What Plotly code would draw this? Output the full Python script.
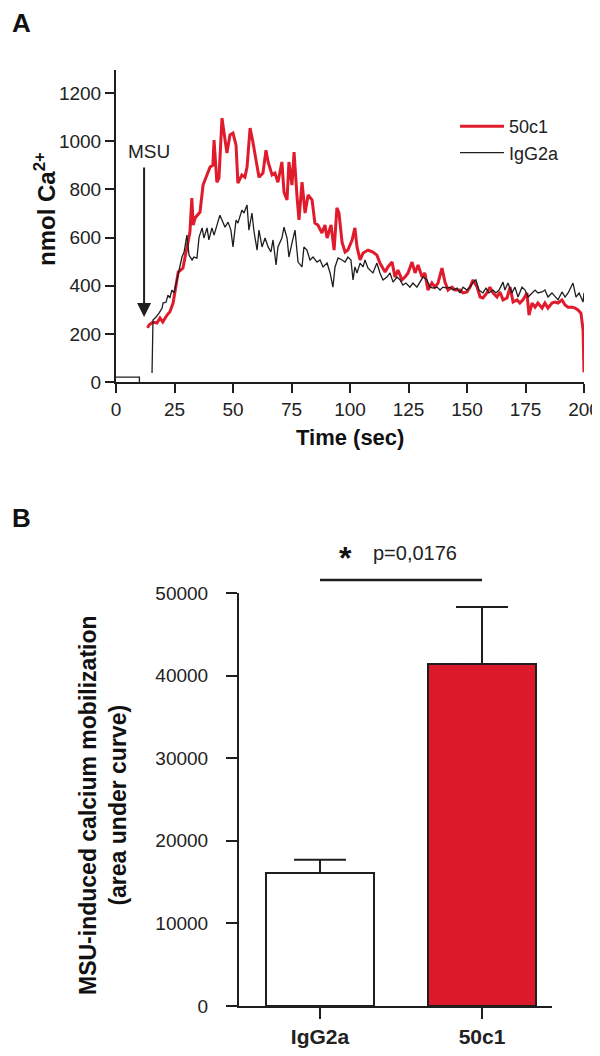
import plotly.graph_objects as go

# Panel A: calcium traces (time in sec, nmol Ca2+)
igg_time = [0, 10, 10, 12,
            15.4, 15.8, 17.1, 18.4, 19.7, 20.1, 21.4, 22.2, 23, 23.9,
            24.8, 26, 26.9, 28.2, 29.1, 30.3, 31.2, 32.5, 33.3, 34.6,
            35.5, 36.8, 37.6, 38.9, 39.7, 41, 41.9, 43.2, 44.4, 45.7,
            46.6, 47.9, 49.1, 50, 51.3, 52.1, 53.8, 54.7, 56, 56.8,
            58.1, 59, 60.3, 61.1, 62.4, 63.7, 65, 66.2, 67.1, 68.4,
            69.2, 70.9, 71.8, 73.1, 73.9, 75.2, 76.5, 77.8, 79.5, 80.3,
            81.6, 82.9, 84.2, 85.9, 87.2, 88.5, 90.2, 91.5, 92.7, 93.6,
            94.9, 96.6, 97.9, 99.1, 100.4, 101.3, 102.1, 103, 104.3, 105.6,
            106.4, 107.7, 108.5, 109.8, 111.5, 112.8, 114.1, 115.8, 117.1, 118.4,
            120.1, 121.4, 122.6, 123.9, 125.6, 126.9, 128.6, 129.9, 131.2, 132.9,
            134.2, 135.5, 137.2, 138.5, 139.7, 141.5, 142.7, 144, 145.7, 147,
            148.3, 150, 151.3, 152.6, 153.8, 155.1, 156.8, 158.1, 159.4, 161.1,
            162.4, 163.7, 165.4, 166.2, 167.5, 169.2, 170.5, 171.8, 173.5, 174.8,
            176.1, 177.8, 179.1, 180.3, 182.1, 183.3, 184.6, 186.3, 187.6, 188.9,
            190.6, 191.9, 193.2, 195.3, 196.6, 197.9, 199.6, 200]
igg_nmol = [20, 20, 0, None,
            37, 257, 270, 286, 307, 328, 332, 361, 349, 382,
            370, 424, 453, 519, 540, 610, 527, 507, 519, 515,
            602, 640, 598, 640, 590, 640, 610, 652, 693, 664,
            643, 664, 631, 561, 673, 660, 714, 702, 735, 631,
            702, 623, 548, 631, 561, 598, 561, 540, 590, 486,
            561, 598, 643, 598, 519, 577, 631, 498, 478, 561,
            548, 507, 519, 498, 507, 478, 494, 453, 394, 478,
            515, 507, 498, 519, 507, 424, 478, 453, 494, 478,
            507, 473, 465, 453, 494, 453, 424, 436, 453, 415,
            436, 424, 403, 411, 394, 411, 394, 415, 436, 424,
            394, 390, 394, 382, 394, 390, 394, 382, 390, 370,
            394, 382, 394, 415, 424, 382, 370, 390, 370, 382,
            370, 382, 415, 382, 411, 370, 394, 353, 394, 382,
            353, 370, 382, 370, 374, 382, 353, 370, 353, 341,
            374, 353, 370, 411, 353, 370, 332, 370]

c50_time = [13.5, 14.1, 15.8, 17.5, 18.8, 20, 21.8, 23, 24.4, 26.6,
            28.6, 30.3, 31.6, 32.4, 33, 33.8, 35.9, 37.2, 38.9, 40.2,
            41.4, 41.9, 43.1, 44, 45.3, 46.6, 47.4, 48.7, 50, 51.3,
            52.1, 53.8, 55.1, 56, 57.3, 58.5, 60.3, 61.1, 62.8, 64.1,
            65, 66.7, 67.9, 69.2, 70.9, 71.8, 73.1, 73.9, 75.2, 76.1,
            77.4, 78.2, 79.5, 80.8, 82.1, 83.8, 85, 86.3, 88, 89.3,
            90.2, 91.9, 93.2, 94.4, 95.3, 96.6, 97.9, 99.1, 100.9, 102.1,
            103, 104.3, 105.6, 107.7, 109.8, 111.5, 112.8, 115, 116.2, 118,
            119.2, 120.5, 122.2, 123.5, 124.8, 126.5, 127.8, 129.1, 130.8, 132,
            133.3, 135, 136.3, 137.6, 139.3, 140.6, 141.9, 143.6, 144.9, 147,
            148.3, 150, 151.3, 152.6, 154.3, 155.6, 156.8, 158.5, 159.8, 161.1,
            162.8, 164.1, 165.4, 167.1, 168.4, 169.7, 171.4, 172.6, 173.9, 175.6,
            176.5, 177.8, 179.1, 180.3, 182.1, 183.3, 184.6, 186.3, 187.6, 188.9,
            190.6, 191.9, 193.2, 194.9, 196.2, 197.4, 198.7, 199.6, 200]
c50_nmol = [225, 237, 249, 245, 266, 249, 278, 291, 328, 457,
            473, 556, 623, 764, 652, 681, 706, 818, 860, 893,
            901, 1005, 830, 847, 1096, 1013, 951, 1026, 1034, 984,
            826, 860, 851, 893, 1055, 997, 901, 851, 868, 963,
            914, 860, 868, 830, 914, 789, 756, 914, 818, 955,
            764, 673, 830, 702, 777, 756, 660, 652, 619, 652,
            598, 652, 548, 723, 702, 581, 540, 548, 590, 640,
            561, 507, 536, 548, 540, 527, 494, 457, 478, 498,
            436, 465, 424, 436, 453, 498, 453, 486, 436, 453,
            382, 411, 394, 411, 473, 415, 382, 394, 382, 382,
            370, 374, 394, 424, 394, 353, 349, 370, 394, 370,
            353, 374, 341, 349, 394, 332, 341, 328, 341, 370,
            278, 328, 311, 328, 307, 328, 307, 328, 332, 328,
            341, 320, 311, 311, 307, 299, 286, 216, 40]

time_ticks = [0, 25, 50, 75, 100, 125, 150, 175, 200]
nmol_ticks = [0, 200, 400, 600, 800, 1000, 1200]

# Panel B: area under curve, mean and upper error
groups = ['IgG2a', '50c1']
auc_mean = [16100, 41400]
auc_err = [1600, 6900]
auc_ticks = [0, 10000, 20000, 30000, 40000, 50000]
p_text = 'p=0,0176'

RED = '#E01B2C'
INK = '#1e1e1e'
FONT = 'Liberation Sans, Arial, sans-serif'
# the page body has an 8px margin, so the figure sits at (8, 8) in the window
OFF = 8
W, H = 600 - OFF, 1056 - OFF

fig = go.Figure()

fig.add_trace(go.Scatter(
    x=c50_time, y=c50_nmol, mode='lines', name='50c1',
    line=dict(color=RED, width=3), xaxis='x', yaxis='y'))
fig.add_trace(go.Scatter(
    x=igg_time, y=igg_nmol, mode='lines', name='IgG2a',
    line=dict(color=INK, width=1.3), xaxis='x', yaxis='y'))

fig.add_trace(go.Bar(
    x=[0, 1], y=auc_mean, width=0.665, showlegend=False,
    marker=dict(color=['white', '#DC1A2B'], line=dict(color=INK, width=2)),
    error_y=dict(type='data', array=auc_err, arrayminus=[0, 0], symmetric=False,
                 color=INK, thickness=2, width=26),
    xaxis='x2', yaxis='y2'))

axis_common = dict(showline=True, linecolor=INK, linewidth=2, ticks='outside',
                   tickcolor=INK, tickwidth=2, showgrid=False, zeroline=False,
                   automargin=False, tickformat='d',
                   tickfont=dict(family=FONT, size=19, color='#222'))


# window pixel -> paper fraction
def px_x(p):
    return (p - OFF) / W


def px_y(p):
    return 1 - (p - OFF) / H


fig.update_layout(
    template='none',
    width=W, height=H,
    margin=dict(l=0, r=0, t=0, b=0, pad=0),
    plot_bgcolor='white', paper_bgcolor='white',
    font=dict(family=FONT, color='#222'),
    xaxis=dict(axis_common, domain=[px_x(116), px_x(584)], range=[0, 200],
               tickvals=time_ticks, ticklen=9, anchor='y'),
    yaxis=dict(axis_common, domain=[px_y(382), px_y(70)], range=[0, 1296],
               tickvals=nmol_ticks, ticklen=9, anchor='x'),
    xaxis2=dict(axis_common, domain=[px_x(239), px_x(552)], range=[-0.5, 1.432],
                tickvals=[0, 1], ticktext=['<b>%s</b>' % g for g in groups],
                ticklen=11, anchor='y2',
                tickfont=dict(family=FONT, size=21, color='#222')),
    yaxis2=dict(axis_common, domain=[px_y(1006), px_y(593)], range=[0, 50000],
                tickvals=auc_ticks, ticklen=11, anchor='x2', ticklabelstandoff=14),
    showlegend=True,
    legend=dict(x=px_x(455), y=px_y(108), xanchor='left', yanchor='top',
                bgcolor='rgba(0,0,0,0)', font=dict(family=FONT, size=18, color='#222'),
                tracegroupgap=0, itemwidth=44),
    bargap=0,
)


def label(text, x, y, size, angle=0, color='#111', ref='paper', xanchor='center'):
    fig.add_annotation(text=text, xref=ref, yref=ref if ref == 'paper' else 'y',
                       x=x, y=y, xanchor=xanchor, yanchor='middle', textangle=angle,
                       showarrow=False, font=dict(family=FONT, size=size, color=color))


# panel letters and axis titles
label('<b>A</b>', px_x(10), px_y(23), 26, xanchor='left')
label('<b>B</b>', px_x(10), px_y(518), 26, xanchor='left')
label('<b>nmol Ca<sup>2+</sup></b>', px_x(45), px_y(209), 24, angle=-90)
label('<b>Time (sec)</b>', px_x(350), px_y(437), 22)
label('<b>MSU-induced calcium mobilization<br>(area under curve)</b>',
      px_x(103), px_y(805), 23, angle=-90)

# MSU arrow
label('MSU', 13.9, 959, 19, color='#222', ref='x')
fig.add_annotation(text='', xref='x', yref='y', x=12, y=270, axref='x', ayref='y',
                   ax=12, ay=897, showarrow=True, arrowhead=2, arrowsize=1.4,
                   arrowwidth=2, arrowcolor=INK)

# significance bracket
fig.add_shape(type='line', xref='x2', yref='paper', x0=0, x1=1,
              y0=px_y(580), y1=px_y(580), line=dict(color=INK, width=2.5))
label('<b>*</b>', px_x(345), px_y(558), 32)
label(p_text, px_x(415), px_y(553), 20, color='#222')

fig.write_html('out.html')
